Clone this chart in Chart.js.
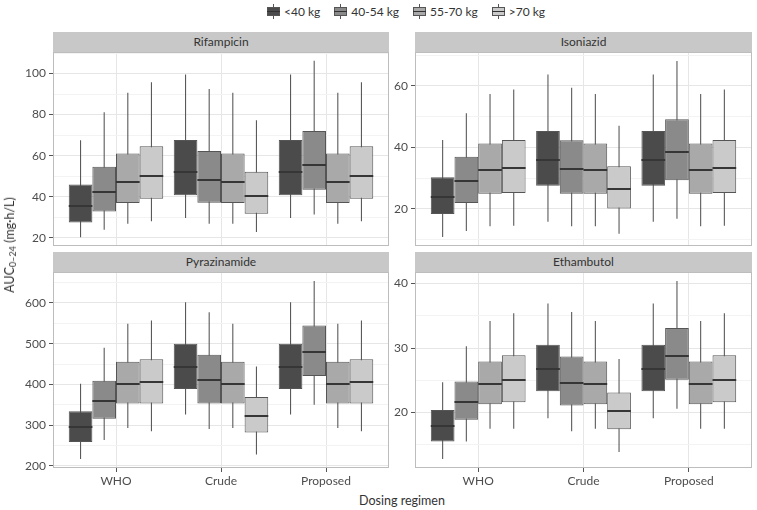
<!DOCTYPE html>
<html>
<head>
<meta charset="utf-8">
<script src="https://cdn.jsdelivr.net/npm/chart.js@4.4.1/dist/chart.umd.min.js"></script>
<style>
  body { margin: 0; background: #fff; font-family: Lato, sans-serif; }
  #wrap { position: relative; width: 757px; height: 510px; overflow: hidden; }
  #wrap canvas { position: absolute; }
  .strip { position: absolute; height: 20px; line-height: 20px; background: #c8c8c8; color: #333; font-size: 12px; font-weight: 400; text-align: center; }
  .legend { position: absolute; left: 265px; top: 3px; display: flex; align-items: center; font-size: 12px; color: #333; }
  .legend .item { display: flex; align-items: center; margin-right: 12px; }
  .legend .key { position: relative; width: 17px; height: 17px; margin-right: 2px; }
  .legend .key .wh { position: absolute; left: 8px; top: 1px; width: 1px; height: 15px; background: #555; }
  .legend .key .bx { position: absolute; left: 2px; top: 4px; width: 11px; height: 7px; border: 1px solid #555; }
  .legend .key .md { position: absolute; left: 2px; top: 8px; width: 13px; height: 1px; background: #333; }
  .ytitle { position: absolute; left: 10px; top: 245px; transform: translate(-50%, -50%) rotate(-90deg); white-space: nowrap; font-size: 12.5px; color: #333; }
  .ytitle sub { font-size: 9px; vertical-align: -2px; }
  .xtitle { position: absolute; left: 402px; top: 500px; transform: translate(-50%, -50%); font-size: 12.5px; color: #333; white-space: nowrap; }
</style>
</head>
<body>
<div id="wrap">
  <div class="legend" id="legend"></div>
  <div class="strip" style="left:53px;top:32px;width:336px">Rifampicin</div>
  <div class="strip" style="left:415px;top:32px;width:337px">Isoniazid</div>
  <div class="strip" style="left:53px;top:252px;width:336px">Pyrazinamide</div>
  <div class="strip" style="left:415px;top:252px;width:337px">Ethambutol</div>
  <canvas id="rif" width="390" height="194" style="left:0;top:52px"></canvas>
  <canvas id="inh" width="367" height="194" style="left:390px;top:52px"></canvas>
  <canvas id="pza" width="390" height="218" style="left:0;top:272px"></canvas>
  <canvas id="emb" width="367" height="218" style="left:390px;top:272px"></canvas>
  <div class="ytitle">AUC<sub>0–24</sub> (mg·h/L)</div>
  <div class="xtitle">Dosing regimen</div>
</div>
<script>
// dosing regimens on the x axis, weight bands as the box groups
const regimens = ['WHO', 'Crude', 'Proposed'];
const bands = ['<40 kg', '40-54 kg', '55-70 kg', '>70 kg'];
const fills = ['#4b4b4b', '#8a8a8a', '#a9a9a9', '#cacaca'];

// each array: rows = weight band, columns = regimen (WHO, Crude, Proposed)
const rifLow = [[20.3, 29.6, 29.6], [23.9, 26.8, 31.4], [26.8, 26.8, 26.8], [28.1, 22.8, 28.1]];
const rifQ1 = [[27.5, 40.7, 40.7], [32.8, 37.1, 43.4], [36.9, 36.9, 36.9], [39.0, 31.7, 39.0]];
const rifMed = [[35.4, 52.0, 52.0], [42.1, 48.0, 55.6], [47.2, 47.2, 47.2], [49.9, 40.3, 49.9]];
const rifQ3 = [[46.0, 67.6, 67.6], [54.6, 62.3, 72.0], [61.0, 61.0, 61.0], [64.6, 52.2, 64.6]];
const rifHigh = [[67.5, 99.5, 99.5], [81.1, 92.5, 106.2], [90.7, 90.7, 90.7], [95.8, 77.2, 95.8]];

const inhLow = [[10.8, 15.8, 15.8], [12.8, 14.3, 16.8], [14.3, 14.3, 14.3], [14.5, 11.9, 14.5]];
const inhQ1 = [[18.3, 27.5, 27.5], [21.9, 24.9, 29.3], [24.9, 24.9, 24.9], [25.1, 20.1, 25.1]];
const inhMed = [[23.8, 35.8, 35.8], [29.0, 33.0, 38.5], [32.6, 32.6, 32.6], [33.3, 26.6, 33.3]];
const inhQ3 = [[30.3, 45.3, 45.3], [36.9, 42.3, 49.1], [41.2, 41.2, 41.2], [42.4, 33.8, 42.4]];
const inhHigh = [[42.4, 63.7, 63.7], [51.1, 59.4, 68.1], [57.3, 57.3, 57.3], [58.8, 47.0, 58.8]];

const pzaLow = [[217, 326, 326], [264, 291, 350], [293, 293, 293], [285, 228, 285]];
const pzaQ1 = [[259, 389, 389], [316, 353, 421], [353, 353, 353], [353, 282, 353]];
const pzaMed = [[295, 442, 442], [359, 410, 479], [402, 402, 402], [405, 323, 405]];
const pzaQ3 = [[334, 500, 500], [409, 473, 545], [456, 456, 456], [462, 369, 462]];
const pzaHigh = [[402, 602, 602], [490, 577, 654], [549, 549, 549], [557, 444, 557]];

const embLow = [[12.8, 19.1, 19.1], [15.5, 17.1, 20.6], [17.5, 17.5, 17.5], [17.5, 13.9, 17.5]];
const embQ1 = [[15.5, 23.3, 23.3], [18.9, 21.1, 25.1], [21.3, 21.3, 21.3], [21.6, 17.4, 21.6]];
const embMed = [[17.9, 26.8, 26.8], [21.7, 24.6, 28.8], [24.4, 24.4, 24.4], [25.1, 20.2, 25.1]];
const embQ3 = [[20.4, 30.5, 30.5], [24.8, 28.7, 33.1], [27.9, 27.9, 27.9], [28.9, 23.1, 28.9]];
const embHigh = [[24.7, 36.9, 36.9], [30.3, 35.6, 40.4], [34.2, 34.2, 34.2], [35.4, 28.3, 35.4]];

Chart.defaults.font.family = 'Lato, sans-serif';
Chart.defaults.animation = false;

// legend keys
const legend = document.getElementById('legend');
bands.forEach((b, i) => {
  const item = document.createElement('div');
  item.className = 'item';
  item.innerHTML = '<div class="key"><div class="wh"></div><div class="bx" style="background:' + fills[i] +
    '"></div><div class="md"></div></div><span>' + b.replace('<', '&lt;').replace('>', '&gt;') + '</span>';
  legend.appendChild(item);
});

// box outline around the plotting area
const panelFrame = {
  id: 'panelFrame',
  afterDraw(chart) {
    const { ctx, chartArea: a } = chart;
    ctx.save();
    ctx.strokeStyle = '#bdbdbd';
    ctx.lineWidth = 1;
    ctx.strokeRect(a.left + 0.5, a.top + 0.5, a.right - a.left - 1, a.bottom - a.top - 1);
    ctx.restore();
  }
};

// median line across each box
const medianLines = {
  id: 'medianLines',
  afterDatasetsDraw(chart) {
    const ctx = chart.ctx;
    const y = chart.scales.y;
    ctx.save();
    ctx.strokeStyle = '#363636';
    ctx.lineWidth = 2;
    chart.data.datasets.forEach((ds, i) => {
      if (!ds.medians) return;
      chart.getDatasetMeta(i).data.forEach((bar, j) => {
        const py = Math.round(y.getPixelForValue(ds.medians[j]));
        ctx.beginPath();
        ctx.moveTo(bar.x - bar.width / 2, py);
        ctx.lineTo(bar.x + bar.width / 2, py);
        ctx.stroke();
      });
    });
    ctx.restore();
  }
};

function makePanel(id, low, q1, med, q3, high, yMin, yMax, step, major, yWidth, padRight, showX) {
  const datasets = [];
  bands.forEach((b, i) => {
    datasets.push({
      label: b,
      data: regimens.map((r, k) => ({ x: k + 1, y: [q1[i][k], q3[i][k]] })),
      backgroundColor: fills[i],
      borderColor: '#555',
      borderWidth: 1,
      borderSkipped: false,
      stack: 's' + i,
      barPercentage: 1,
      categoryPercentage: 0.9,
      medians: med[i]
    });
  });
  bands.forEach((b, i) => {
    datasets.push({
      label: b + ' whisker',
      data: regimens.map((r, k) => ({ x: k + 1, y: [low[i][k], high[i][k]] })),
      backgroundColor: '#555',
      borderWidth: 0,
      stack: 's' + i,
      barPercentage: 0.045,
      categoryPercentage: 0.9
    });
  });

  new Chart(document.getElementById(id), {
    type: 'bar',
    data: { datasets },
    options: {
      responsive: false,
      layout: { padding: { left: 0, right: padRight, top: 0, bottom: 0 } },
      plugins: { legend: { display: false }, tooltip: { enabled: false } },
      scales: {
        x: {
          type: 'linear',
          min: 0.4,
          max: 3.6,
          offset: false,
          stacked: true,
          afterBuildTicks: s => { s.ticks = regimens.map((r, k) => ({ value: k + 1 })); },
          afterFit: s => { s.height = showX ? 22 : 0; s.paddingLeft = 0; s.paddingRight = 0; },
          ticks: {
            display: showX,
            autoSkip: false,
            maxRotation: 0,
            padding: 2,
            color: '#4d4d4d',
            font: { size: 12 },
            callback: v => regimens[v - 1]
          },
          grid: { offset: false, color: '#e6e6e6', drawTicks: showX, tickLength: 4, tickColor: '#555' },
          border: { display: false }
        },
        y: {
          min: yMin,
          max: yMax,
          stacked: false,
          afterFit: s => { s.width = yWidth; s.paddingTop = 0; s.paddingBottom = 0; },
          ticks: {
            stepSize: step,
            includeBounds: false,
            autoSkip: false,
            padding: 3,
            color: '#4d4d4d',
            font: { size: 12 },
            callback: v => (v % major === 0 ? v : '')
          },
          grid: {
            color: c => (c.tick && c.tick.value % major === 0 ? '#e6e6e6' : '#f3f3f3'),
            tickLength: 4,
            tickColor: c => (c.tick && c.tick.value % major === 0 ? '#555' : 'rgba(0,0,0,0)')
          },
          border: { display: false }
        }
      }
    },
    plugins: [medianLines, panelFrame]
  });
}

makePanel('rif', rifLow, rifQ1, rifMed, rifQ3, rifHigh, 16.0, 110.5, 10, 20, 53, 1, false);
makePanel('inh', inhLow, inhQ1, inhMed, inhQ3, inhHigh, 7.9, 71.0, 10, 20, 25, 5, false);
makePanel('pza', pzaLow, pzaQ1, pzaMed, pzaQ3, pzaHigh, 195, 676, 50, 100, 53, 1, true);
makePanel('emb', embLow, embQ1, embMed, embQ3, embHigh, 11.4, 41.8, 5, 10, 25, 5, true);
</script>
</body>
</html>
